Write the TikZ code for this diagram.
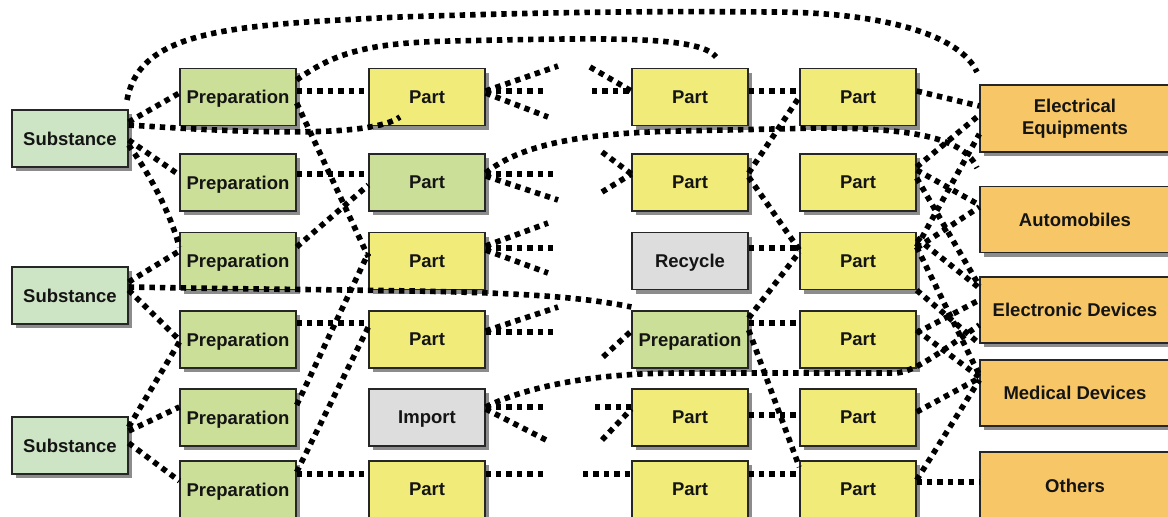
\documentclass[tikz,border=0pt]{standalone}
\usepackage{fontspec}
\setmainfont{Liberation Sans}
\usetikzlibrary{shadows}
\definecolor{subst}{RGB}{205,229,196}
\definecolor{prepg}{RGB}{204,223,153}
\definecolor{party}{RGB}{241,236,122}
\definecolor{greyb}{RGB}{221,221,221}
\definecolor{orng}{RGB}{246,198,103}
\begin{document}
\begin{tikzpicture}[x=1pt,y=-1pt,
  box/.style={draw=black!85, line width=1.3pt, minimum width=116pt, minimum height=57pt,
    inner sep=0pt, align=center, font=\fontsize{18.5}{21.5}\selectfont\bfseries, text=black!92,
    drop shadow={shadow xshift=4pt, shadow yshift=-4pt, fill=black!45, opacity=1}},
  one/.style={text depth=0pt},
  sbox/.style={box, one, fill=subst},
  gbox/.style={box, one, fill=prepg},
  ybox/.style={box, one, fill=party},
  rbox/.style={box, one, fill=greyb},
  obox/.style={box, fill=orng, minimum width=190pt, minimum height=66pt},
  conn/.style={line width=5.6pt, dash pattern=on 5.4pt off 5pt, black}]
\useasboundingbox (0,0) rectangle (1168,517);
\clip (0,0) rectangle (1168,517);
\fill[white] (0,0) rectangle (1168,517);

% column 1
\node[sbox] (s1) at (70,138.5) {Substance};
\node[sbox] (s2) at (70,295.5) {Substance};
\node[sbox] (s3) at (70,445.5) {Substance};
% column 2
\node[gbox] (p1) at (238,97) {Preparation};
\node[gbox] (p2) at (238,182.5) {Preparation};
\node[gbox] (p3) at (238,261) {Preparation};
\node[gbox] (p4) at (238,339.5) {Preparation};
\node[gbox] (p5) at (238,417.5) {Preparation};
\node[gbox] (p6) at (238,489.5) {Preparation};
% column 3
\node[ybox] (a1) at (427,97) {Part};
\node[gbox] (a2) at (427,182.5) {Part};
\node[ybox] (a3) at (427,261) {Part};
\node[ybox] (a4) at (427,339.5) {Part};
\node[rbox] (a5) at (427,417.5) {Import};
\node[ybox] (a6) at (427,489.5) {Part};
% column 4
\node[ybox] (b1) at (690,97) {Part};
\node[ybox] (b2) at (690,182.5) {Part};
\node[rbox] (b3) at (690,261) {Recycle};
\node[gbox] (b4) at (690,339.5) {Preparation};
\node[ybox] (b5) at (690,417.5) {Part};
\node[ybox] (b6) at (690,489.5) {Part};
% column 5
\node[ybox] (c1) at (858,97) {Part};
\node[ybox] (c2) at (858,182.5) {Part};
\node[ybox] (c3) at (858,261) {Part};
\node[ybox] (c4) at (858,339.5) {Part};
\node[ybox] (c5) at (858,417.5) {Part};
\node[ybox] (c6) at (858,489.5) {Part};
% column 6
\node[obox, minimum height=67pt] (d1) at (1075,118.5) {Electrical\\Equipments};
\node[obox, one] (d2) at (1075,219.5) {Automobiles};
\node[obox, one] (d3) at (1075,310) {Electronic Devices};
\node[obox, one] (d4) at (1075,393) {Medical Devices};
\node[obox, one, minimum height=67pt] (d5) at (1075,485.5) {Others};

% free ends
\coordinate (ua1) at (558,66);
\coordinate (ha1) at (545,91);
\coordinate (da1) at (548,117);
\coordinate (ha2) at (557,174);
\coordinate (da2) at (558,200);
\coordinate (ua3) at (548,223);
\coordinate (ha3) at (556,248);
\coordinate (da3) at (548,273);
\coordinate (ua4) at (558,307);
\coordinate (ha4) at (556,332);
\coordinate (ha5) at (545,407);
\coordinate (da5) at (548,441);
\coordinate (ha6) at (545,474);
\coordinate (ub1) at (590,67);
\coordinate (hb1) at (592,91);
\coordinate (ub2) at (602,152);
\coordinate (db2) at (602,192);
\coordinate (db4) at (603,357);
\coordinate (hb5) at (595,407);
\coordinate (db5) at (602,440);
\coordinate (hb6) at (583,474);
\coordinate (tip1) at (716,57);
\coordinate (tip2) at (977,168);
\coordinate (tip3) at (977,72);
\coordinate (tip4) at (127,100);
\coordinate (tip5) at (400,117);

% long arcs
\draw[conn] (tip4) .. controls (140,30) and (230,25) .. (400,17)
  .. controls (550,12) and (650,11) .. (770,12)
  .. controls (884,12) and (960,35) .. (tip3);
\draw[conn] (p1.east |- 0,80) .. controls (335,52) and (370,43) .. (450,41)
  .. controls (600,38) and (700,35) .. (tip1);
\draw[conn] (s1.east |- 0,125) .. controls (250,133) and (370,138) .. (tip5);
\draw[conn] (s2.east |- 0,287) .. controls (400,292) and (540,288) .. (b4.west |- 0,307);
\draw[conn] (a2.east |- 0,173) .. controls (520,145) and (580,133) .. (680,131)
  -- (820,128) .. controls (920,128) and (965,140) .. (tip2);
\draw[conn] (a5.east |- 0,407) .. controls (530,385) and (600,373) .. (680,373)
  -- (895,373) .. controls (915,373) and (950,345) .. (d3.west |- 0,325);

% column 1 -> column 2
\draw[conn] (s1.east |- 0,122) -- (p1.west |- 0,93);
\draw[conn] (s1.east |- 0,140) -- (p2.west |- 0,175);
\draw[conn] (s1.east |- 0,145) .. controls (150,175) and (170,212) .. (p3.west |- 0,247);
\draw[conn] (s2.east |- 0,282) -- (p3.west |- 0,251);
\draw[conn] (s2.east |- 0,290) -- (p4.west |- 0,340);
\draw[conn] (s3.east |- 0,427) -- (p4.west |- 0,342);
\draw[conn] (s3.east |- 0,431) -- (p5.west |- 0,407);
\draw[conn] (s3.east |- 0,443) -- (p6.west |- 0,481);

% column 2 -> column 3
\draw[conn] (p1.east |- 0,91) -- (a1.west |- 0,91);
\draw[conn] (p1.east |- 0,103) -- (a3.west |- 0,257);
\draw[conn] (p2.east |- 0,174) -- (a2.west |- 0,174);
\draw[conn] (p3.east |- 0,247) -- (a2.west |- 0,185);
\draw[conn] (p4.east |- 0,323) -- (a4.west |- 0,323);
\draw[conn] (p5.east |- 0,405) -- (a3.west |- 0,253);
\draw[conn] (p6.east |- 0,472) -- (a4.west |- 0,327);
\draw[conn] (p6.east |- 0,474) -- (a6.west |- 0,474);

% fans out of column 3
\draw[conn] (a1.east |- 0,91) -- (ua1);
\draw[conn] (a1.east |- 0,91) -- (ha1);
\draw[conn] (a1.east |- 0,93) -- (da1);
\draw[conn] (a2.east |- 0,174) -- (ha2);
\draw[conn] (a2.east |- 0,176) -- (da2);
\draw[conn] (a3.east |- 0,246) -- (ua3);
\draw[conn] (a3.east |- 0,248) -- (ha3);
\draw[conn] (a3.east |- 0,250) -- (da3);
\draw[conn] (a4.east |- 0,331) -- (ua4);
\draw[conn] (a4.east |- 0,332) -- (ha4);
\draw[conn] (a5.east |- 0,407) -- (ha5);
\draw[conn] (a5.east |- 0,409) -- (da5);
\draw[conn] (a6.east |- 0,474) -- (ha6);

% fans into column 4
\draw[conn] (ub1) -- (b1.west |- 0,91);
\draw[conn] (hb1) -- (b1.west |- 0,91);
\draw[conn] (ub2) -- (b2.west |- 0,174);
\draw[conn] (db2) -- (b2.west |- 0,174);
\draw[conn] (db4) -- (b4.west |- 0,331);
\draw[conn] (hb5) -- (b5.west |- 0,407);
\draw[conn] (db5) -- (b5.west |- 0,409);
\draw[conn] (hb6) -- (b6.west |- 0,474);

% column 4 -> column 5
\draw[conn] (b1.east |- 0,91) -- (c1.west |- 0,91);
\draw[conn] (b2.east |- 0,173) -- (c1.west |- 0,97);
\draw[conn] (b2.east |- 0,177) -- (c3.west |- 0,250);
\draw[conn] (b3.east |- 0,248) -- (c3.west |- 0,248);
\draw[conn] (b4.east |- 0,318) -- (c3.west |- 0,252);
\draw[conn] (b4.east |- 0,323) -- (c4.west |- 0,323);
\draw[conn] (b4.east |- 0,330) -- (c6.west |- 0,467);
\draw[conn] (b5.east |- 0,415) -- (c5.west |- 0,415);
\draw[conn] (b6.east |- 0,474) -- (c6.west |- 0,474);

% column 5 -> column 6
\draw[conn] (c1.east |- 0,91) -- (d1.west |- 0,106);
\draw[conn] (c2.east |- 0,167) -- (d1.west |- 0,115);
\draw[conn] (c2.east |- 0,170) -- (d2.west |- 0,205);
\draw[conn] (c2.east |- 0,178) -- (d3.west |- 0,286);
\draw[conn] (c3.east |- 0,247) -- (d1.west |- 0,134);
\draw[conn] (c3.east |- 0,248) -- (d2.west |- 0,207);
\draw[conn] (c3.east |- 0,238) -- (d3.west |- 0,288);
\draw[conn] (c3.east |- 0,247) -- (d4.west |- 0,375);
\draw[conn] (c3.south east) -- (d3.south west);
\draw[conn] (c4.east |- 0,333) -- (d3.west |- 0,300);
\draw[conn] (c4.east |- 0,330) -- (d4.west |- 0,377);
\draw[conn] (c5.east |- 0,412) -- (d4.west |- 0,378);
\draw[conn] (c6.east |- 0,480) -- (d4.west |- 0,380);
\draw[conn] (c6.east |- 0,482) -- (d5.west |- 0,482);
\end{tikzpicture}
\end{document}
